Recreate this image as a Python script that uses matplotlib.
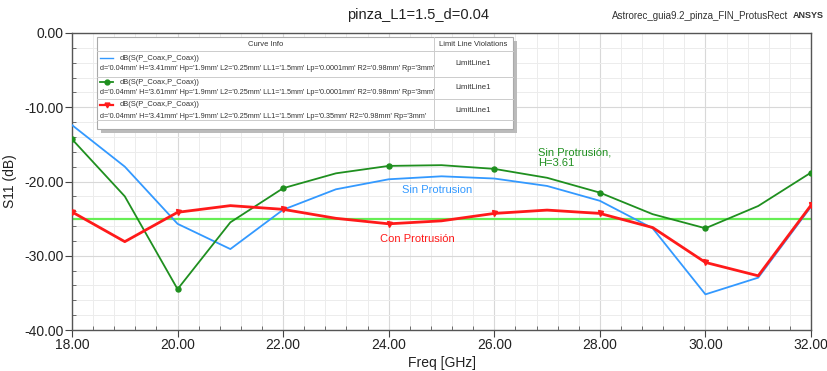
import numpy as np
import matplotlib
matplotlib.use('Agg')
import matplotlib.pyplot as plt
from matplotlib.patches import Rectangle
from matplotlib.lines import Line2D
from matplotlib.ticker import MultipleLocator, FormatStrFormatter

plt.rcParams['font.family'] = ['Liberation Sans', 'DejaVu Sans']

# data
freq = np.arange(18, 33)
s11_sin = [-12.4, -18.0, -25.7, -29.1, -23.8, -21.05, -19.7, -19.3,
           -19.6, -20.6, -22.6, -26.3, -35.2, -32.95, -23.4]
s11_sin_h361 = [-14.3, -22.0, -34.5, -25.5, -20.9, -18.9, -17.9, -17.8,
                -18.3, -19.5, -21.5, -24.4, -26.3, -23.3, -18.8]
s11_con = [-24.1, -28.1, -24.15, -23.25, -23.75, -24.96, -25.7, -25.3,
           -24.3, -23.85, -24.3, -26.2, -30.9, -32.7, -23.2]
limit_db = -25.0

trace_name = 'dB(S(P_Coax,P_Coax))'
trace_params = [
    "d='0.04mm' H='3.41mm' Hp='1.9mm' L2='0.25mm' LL1='1.5mm' Lp='0.0001mm' R2='0.98mm' Rp='3mm'",
    "d='0.04mm' H='3.61mm' Hp='1.9mm' L2='0.25mm' LL1='1.5mm' Lp='0.0001mm' R2='0.98mm' Rp='3mm'",
    "d='0.04mm' H='3.41mm' Hp='1.9mm' L2='0.25mm' LL1='1.5mm' Lp='0.35mm' R2='0.98mm' Rp='3mm'",
]

blue = '#3399ff'
green = '#1f8f1f'
red = '#ff1a1a'
lim_green = '#66ee55'

W, H = 827, 371
fig = plt.figure(figsize=(W / 100, H / 100), dpi=100)
ax = fig.add_axes([72 / W, 1 - 330 / H, (811 - 72) / W, (330 - 33) / H])

ax.axhline(limit_db, color=lim_green, lw=1.6, zorder=2)
ax.plot(freq, s11_sin, color=blue, lw=1.3, zorder=3)
ax.plot(freq, s11_sin_h361, color=green, lw=1.3, zorder=3)
ax.plot(freq[::2], s11_sin_h361[::2], 'o', color=green, ms=3.6, zorder=4)
ax.plot(freq, s11_con, color=red, lw=2.0, zorder=3)
ax.plot(freq[::2], s11_con[::2], 'v', color=red, ms=3.6, zorder=4)

ax.set_xlim(18, 32)
ax.set_ylim(-40, 0)
ax.xaxis.set_major_locator(MultipleLocator(2))
ax.xaxis.set_minor_locator(MultipleLocator(0.4))
ax.yaxis.set_major_locator(MultipleLocator(10))
ax.yaxis.set_minor_locator(MultipleLocator(2))
ax.xaxis.set_major_formatter(FormatStrFormatter('%.2f'))
ax.yaxis.set_major_formatter(FormatStrFormatter('%.2f'))
ax.grid(which='major', color='#d8d8d8', lw=0.8)
ax.grid(which='minor', color='#ececec', lw=0.7)
ax.tick_params(which='major', direction='out', length=5, labelsize=10,
               color='#444444', labelcolor='#222222', pad=1)
ax.tick_params(which='minor', direction='in', length=3, color='#555555')
for s in ax.spines.values():
    s.set_color('#555555')
    s.set_linewidth(1.0)

ax.set_xlabel('Freq [GHz]', fontsize=10, color='#222222', labelpad=3)
ax.set_ylabel('S11 (dB)', fontsize=10, color='#222222', labelpad=5)

fig.text(418 / W, 1 - 15 / H, 'pinza_L1=1.5_d=0.04', ha='center', va='center',
         fontsize=10.5, color='#222222')
fig.text(788 / W, 1 - 16 / H, 'Astrorec_guia9.2_pinza_FIN_ProtusRect', ha='right',
         va='center', fontsize=7, color='#333333')
fig.text(824 / W, 1 - 16 / H, 'ANSYS', ha='right', va='center', fontsize=6.5,
         fontweight='bold', color='#333333')

ax.text(402 / W, 1 - 190 / H, 'Sin Protrusion', transform=fig.transFigure,
        color=blue, fontsize=8, va='center', ha='left')
ax.text(380 / W, 1 - 239 / H, 'Con Protrusión', transform=fig.transFigure,
        color=red, fontsize=8, va='center', ha='left')
ax.text(538 / W, 1 - 158 / H, 'Sin Protrusión,\nH=3.61', transform=fig.transFigure,
        color=green, fontsize=8, va='center', ha='left', multialignment='left',
        linespacing=1.05)


# legend table, drawn in figure pixels
def fx(x):
    return x / W


def fy(y):
    return 1 - y / H


tf = fig.transFigure
left, right, top, bottom, divx = 97, 513, 37, 129, 434
fig.patches.append(Rectangle((fx(left + 4), fy(bottom + 4)), fx(right - left), (bottom - top) / H,
                             transform=tf, facecolor='#bbbbbb', edgecolor='none', zorder=5))
fig.patches.append(Rectangle((fx(left), fy(bottom)), fx(right - left), (bottom - top) / H,
                             transform=tf, facecolor='white', edgecolor='#aaaaaa', lw=0.8, zorder=6))
for yy in [51, 77, 98.5, 120]:
    fig.lines.append(Line2D([fx(left), fx(right)], [fy(yy), fy(yy)], transform=tf,
                            color='#cccccc', lw=0.7, zorder=7))
fig.lines.append(Line2D([fx(divx), fx(divx)], [fy(top), fy(bottom)], transform=tf,
                        color='#cccccc', lw=0.7, zorder=7))
fig.text(fx(266), fy(45), 'Curve Info', ha='center', va='center', fontsize=5.5,
         color='#333333', zorder=8)
fig.text(fx(473), fy(45), 'Limit Line Violations', ha='center', va='center', fontsize=5.5,
         color='#333333', zorder=8)

row_y = [58, 82, 105]
styles = [(blue, None, 1.0), (green, 'o', 1.3), (red, 'v', 1.6)]
for i, (col, mk, lw) in enumerate(styles):
    y0 = row_y[i]
    fig.lines.append(Line2D([fx(100), fx(113)], [fy(y0), fy(y0)], transform=tf, color=col,
                            lw=lw, zorder=8))
    if mk:
        fig.lines.append(Line2D([fx(106.5)], [fy(y0)], transform=tf, color=col, marker=mk,
                                ms=3.5, zorder=9))
    fig.text(fx(120), fy(y0), trace_name, ha='left', va='center', fontsize=5.4,
             color='#333333', zorder=8)
    fig.text(fx(100.5), fy(y0 + 11), trace_params[i], ha='left', va='center', fontsize=5.2,
             color='#333333', zorder=8)
    fig.text(fx(473), fy(y0 + 5.5), 'LimitLine1', ha='center', va='center', fontsize=5.6,
             color='#333333', zorder=8)

fig.savefig('out.png', dpi=100)
